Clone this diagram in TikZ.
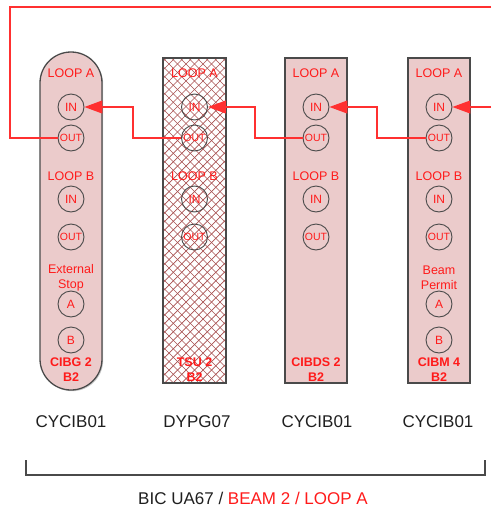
\documentclass[tikz,border=0pt]{standalone}
\usepackage{fontspec}
\setmainfont{Liberation Sans}
\usetikzlibrary{arrows.meta}
\definecolor{boxfill}{HTML}{EBCBCB}
\definecolor{boxline}{HTML}{4A4A4A}
\definecolor{txtred}{HTML}{FF1A1A}
\definecolor{hatch}{HTML}{A85050}
\definecolor{wire}{HTML}{FF3030}
\tikzset{
  modbox/.style={draw=boxline, line width=1.3pt, fill=boxfill},
  port/.style={circle, draw=boxline, line width=0.9pt, minimum size=26pt, inner sep=0pt,
               text=txtred, font=\fontsize{12}{12}\selectfont},
  outport/.style={port, font=\fontsize{10.5}{10.5}\selectfont},
  lbl/.style={text=txtred, font=\fontsize{12.5}{15.5}\selectfont, align=center, inner sep=0pt},
  namelbl/.style={text=txtred, font=\bfseries\fontsize{12.5}{15}\selectfont, align=center, inner sep=0pt},
  devlbl/.style={text=black!88, font=\fontsize{17}{17}\selectfont, inner sep=0pt},
  wireline/.style={draw=wire, line width=1.2pt},
  arr/.style={wireline, -{Triangle[length=18pt,width=13pt]}},
  shadow/.style={fill=black!20},
}
\begin{document}
\begin{tikzpicture}[x=1pt,y=-1pt]
\useasboundingbox (0,0) rectangle (491,509);
% ---- module boxes
\fill[shadow] (41.2,53.2) [rounded corners=31pt] rectangle (103.2,391.2);
\draw[modbox, rounded corners=31pt] (40,52) rectangle (102,390);
% hatched module
\fill[shadow] (164.2,59.2) rectangle (227.2,384.2);
\fill[white] (163,58) rectangle (226,383);
\begin{scope}
  \clip (163,58) rectangle (226,383);
  \foreach \k in {-340,-331.5,...,80} {
    \draw[hatch, line width=0.7pt] (163+\k,58) -- ++(340,340);
    \draw[hatch, line width=0.7pt] (226-\k,58) -- ++(-340,340);
  }
\end{scope}
\draw[draw=boxline, line width=1.3pt] (163,58) rectangle (226,383);
\fill[shadow] (286.2,59.2) rectangle (348.2,384.2);
\draw[modbox] (285,58) rectangle (347,383);
\fill[shadow] (409.2,59.2) rectangle (471.2,384.2);
\draw[modbox] (408,58) rectangle (470,383);
% ---- contents
\foreach \i/\cx in {1/71,2/194.5,3/316,4/439} {
  \node[lbl] (la\i) at (\cx,73) {LOOP A};
  \node[port] (ina\i) at (\cx,107) {IN};
  \node[outport] (outa\i) at (\cx,138) {OUT};
  \node[lbl] (lb\i) at (\cx,176) {LOOP B};
  \node[port] (inb\i) at (\cx,199) {IN};
  \node[outport] (outb\i) at (\cx,237) {OUT};
}
\node[lbl] (ext1) at (71,278) {External\\Stop};
\node[port] (pa1) at (71,304) {A};
\node[port] (pb1) at (71,340) {B};
\node[lbl] (ext4) at (439,278) {Beam\\Permit};
\node[port] (pa4) at (439,304) {A};
\node[port] (pb4) at (439,340) {B};
\node[namelbl] (n1) at (71,370) {CIBG 2\\B2};
\node[namelbl] (n2) at (194.5,370) {TSU 2\\B2};
\node[namelbl] (n3) at (316,370) {CIBDS 2\\B2};
\node[namelbl] (n4) at (439,370) {CIBM 4\\B2};
% ---- device labels
\node[devlbl] (d1) at (71,422) {CYCIB01};
\node[devlbl] (d2) at (197,422) {DYPG07};
\node[devlbl] (d3) at (317,422) {CYCIB01};
\node[devlbl] (d4) at (438,422) {CYCIB01};
% ---- bracket
\coordinate (bl) at (26,460);
\coordinate (br) at (485,460);
\draw[boxline, line width=1.2pt] (bl) -- ++(0,15) -| (br);
\node[font=\fontsize{17}{17}\selectfont, inner sep=0pt] (title) at (253,498)
  {\textcolor{black!88}{BIC UA67 /} \textcolor{txtred}{BEAM 2 / LOOP A}};
% ---- wires
\coordinate (topR) at (491,7);
\coordinate (inR) at (491,107);
\draw[wireline] (topR) -| (10,138) -- (outa1.west);
\draw[arr] (outa2.west) -| (133,107) -- (ina1.east);
\draw[arr] (outa3.west) -| (255,107) -- (ina2.east);
\draw[arr] (outa4.west) -| (377,107) -- (ina3.east);
\draw[arr] (inR) -- (ina4.east);
\end{tikzpicture}
\end{document}
